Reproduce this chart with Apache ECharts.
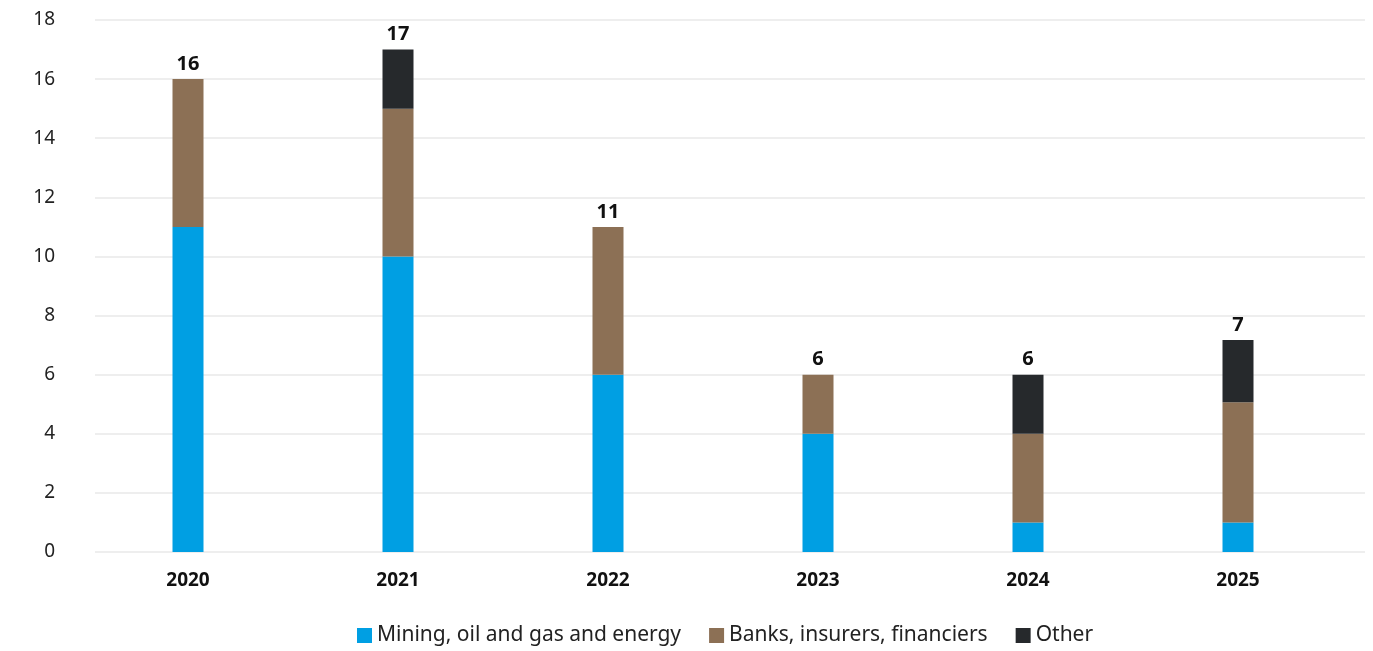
<!DOCTYPE html>
<html><head><meta charset="utf-8">
<script src="https://cdn.jsdelivr.net/npm/echarts@6/dist/echarts.min.js"></script>
<style>html,body{margin:0;padding:0;background:#fff}#c{width:1373px;height:651px}</style>
</head><body><div id="c"></div>
<script>
const years = ['2020','2021','2022','2023','2024','2025'];
const mining = [11, 10, 6, 4, 1, 1];
const banks = [5, 5, 5, 2, 3, 4.07];
const other = [0, 2, 0, 0, 2, 2.1];
const seriesNames = ['Mining, oil and gas and energy', 'Banks, insurers, financiers', 'Other'];
const colors = ['#009FE3', '#8C7055', '#26292C'];
const totals = years.map((y, i) => mining[i] + banks[i] + other[i]);

const font = '"Source Sans Pro","Noto Sans",sans-serif';
const chart = echarts.init(document.getElementById('c'));
const barCommon = (name, data, color) => ({
  name, type: 'bar', stack: 's', data, barWidth: 31,
  xAxisIndex: 1, yAxisIndex: 1,
  itemStyle: { color }
});
chart.setOption({
  animation: false,
  textStyle: { fontFamily: font },
  grid: [
    { left: 95, right: 8, top: 20, bottom: 99 },
    { left: 83, right: 30, top: 20, bottom: 99 }
  ],
  xAxis: [
    { gridIndex: 0, type: 'category', data: years, show: false },
    { gridIndex: 1, type: 'category', data: years,
      axisLine: { show: false }, axisTick: { show: false },
      axisLabel: { color: '#111', fontWeight: 'bold', fontSize: 19, margin: 19, fontFamily: font } }
  ],
  yAxis: [
    { gridIndex: 0, type: 'value', min: 0, max: 18, interval: 2,
      axisLine: { show: false }, axisTick: { show: false },
      splitLine: { lineStyle: { color: '#e8e8e8', width: 1.5 } },
      axisLabel: { color: '#222', fontSize: 19, margin: 40, fontFamily: font } },
    { gridIndex: 1, type: 'value', min: 0, max: 18, interval: 2, show: false, splitLine: { show: false } }
  ],
  legend: {
    bottom: 0, left: 352, data: seriesNames,
    itemWidth: 15, itemHeight: 15, itemGap: 28, icon: 'rect',
    textStyle: { fontSize: 21, color: '#222', fontFamily: font }
  },
  series: [
    barCommon(seriesNames[0], mining, colors[0]),
    barCommon(seriesNames[1], banks, colors[1]),
    barCommon(seriesNames[2], other, colors[2]),
    { name: 'total', type: 'bar', stack: 's', xAxisIndex: 1, yAxisIndex: 1, barWidth: 31,
      data: years.map(() => 0), itemStyle: { color: 'transparent' },
      label: { show: true, position: 'top', distance: 5, color: '#111', fontWeight: 'bold', fontSize: 20,
        fontFamily: font, formatter: p => Math.round(totals[p.dataIndex]) } }
  ]
});
</script></body></html>
